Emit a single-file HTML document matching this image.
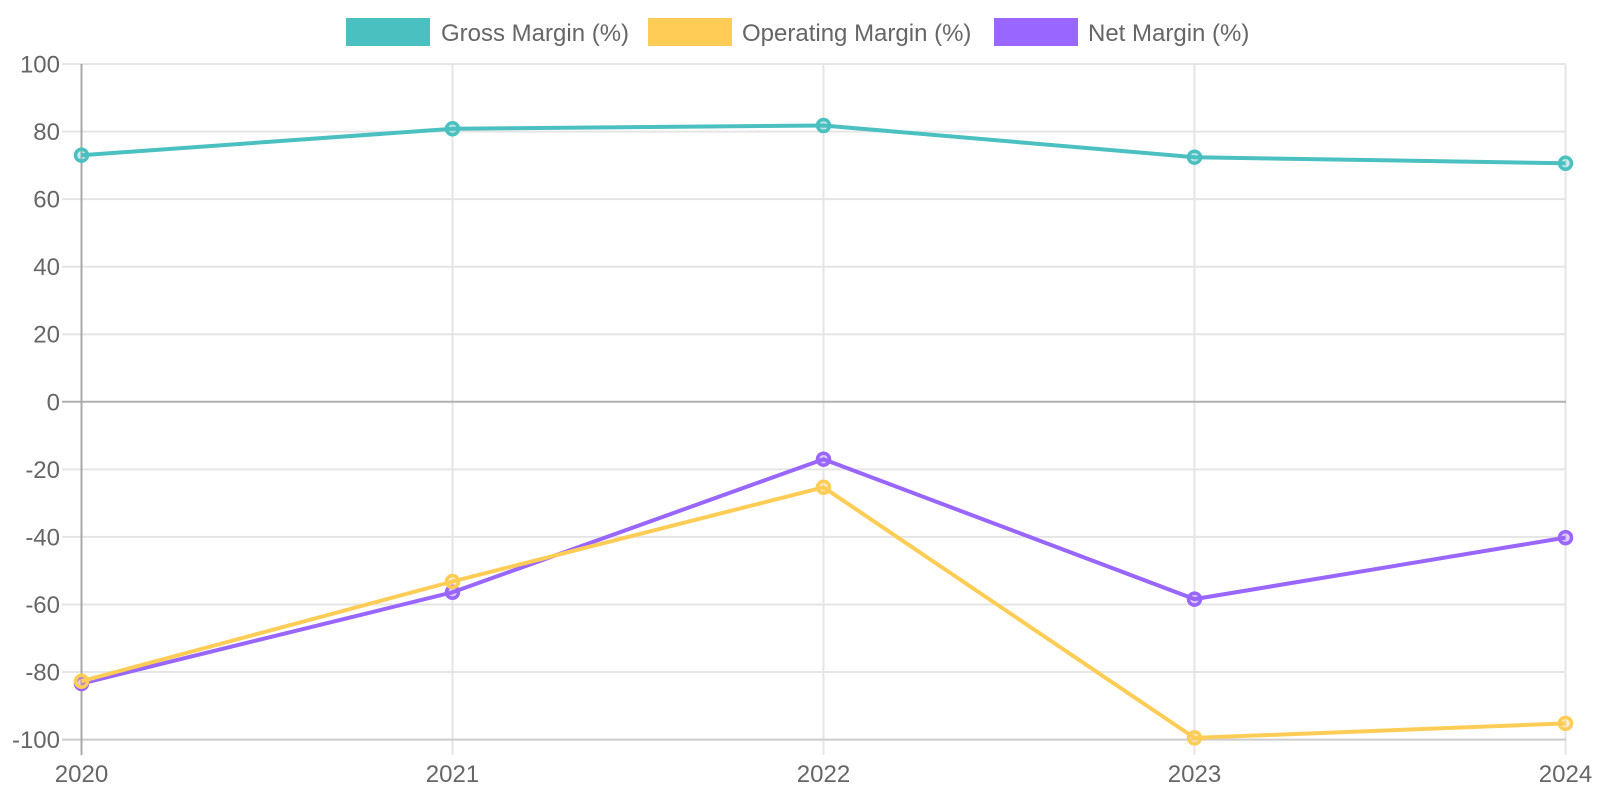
<!DOCTYPE html>
<html>
<head>
<meta charset="utf-8">
<style>
  html,body{margin:0;padding:0;background:#fff;}
  svg{display:block;}
  text{font-family:"Liberation Sans",Arial,sans-serif;fill:#666;font-size:24px;}
</style>
</head>
<body>
<svg width="1600" height="800" viewBox="0 0 1600 800" xmlns="http://www.w3.org/2000/svg">
  <!-- Legend -->
  <rect x="346" y="18" width="84" height="28" fill="#4BC0C0"/>
  <text x="441" y="41">Gross Margin (%)</text>
  <rect x="648" y="18" width="84" height="28" fill="#FFCD56"/>
  <text x="742" y="41">Operating Margin (%)</text>
  <rect x="994" y="18" width="84" height="28" fill="#9966FF"/>
  <text x="1088" y="41">Net Margin (%)</text>

  <!-- Horizontal grid -->
  <g stroke="#e5e5e5" stroke-width="2">
    <line x1="62" y1="64" x2="1566" y2="64"/>
    <line x1="62" y1="131.6" x2="1566" y2="131.6"/>
    <line x1="62" y1="199.1" x2="1566" y2="199.1"/>
    <line x1="62" y1="266.7" x2="1566" y2="266.7"/>
    <line x1="62" y1="334.2" x2="1566" y2="334.2"/>
    <line x1="62" y1="469.4" x2="1566" y2="469.4"/>
    <line x1="62" y1="536.9" x2="1566" y2="536.9"/>
    <line x1="62" y1="604.5" x2="1566" y2="604.5"/>
    <line x1="62" y1="672.0" x2="1566" y2="672.0"/>
  </g>
  <!-- Vertical grid -->
  <g stroke="#e5e5e5" stroke-width="2">
    <line x1="452.5" y1="64" x2="452.5" y2="755"/>
    <line x1="823.5" y1="64" x2="823.5" y2="755"/>
    <line x1="1194.5" y1="64" x2="1194.5" y2="755"/>
    <line x1="1565.5" y1="64" x2="1565.5" y2="755"/>
  </g>
  <!-- bottom axis line and zero line -->
  <line x1="62" y1="739.6" x2="1566" y2="739.6" stroke="#cccccc" stroke-width="2"/>
  <line x1="62" y1="401.8" x2="1566" y2="401.8" stroke="#b0b0b0" stroke-width="2"/>
  <!-- left axis -->
  <line x1="81.5" y1="64" x2="81.5" y2="755" stroke="#a8a8a8" stroke-width="2"/>

  <!-- Y labels -->
  <g text-anchor="end">
    <text x="60" y="72.5">100</text>
    <text x="60" y="140.1">80</text>
    <text x="60" y="207.6">60</text>
    <text x="60" y="275.2">40</text>
    <text x="60" y="342.7">20</text>
    <text x="60" y="410.3">0</text>
    <text x="60" y="477.9">-20</text>
    <text x="60" y="545.4">-40</text>
    <text x="60" y="613">-60</text>
    <text x="60" y="680.5">-80</text>
    <text x="60" y="748.1">-100</text>
  </g>
  <!-- X labels -->
  <g text-anchor="middle">
    <text x="81.5" y="782">2020</text>
    <text x="452.5" y="782">2021</text>
    <text x="823.5" y="782">2022</text>
    <text x="1194.5" y="782">2023</text>
    <text x="1565.5" y="782">2024</text>
  </g>

  <!-- Net Margin (drawn first, bottom) -->
  <polyline fill="none" stroke="#9966FF" stroke-width="4" stroke-linejoin="round"
    points="81.5,683.5 452.5,592.3 823.5,459.2 1194.5,599.1 1565.5,537.6"/>
  <g fill="rgba(153,102,255,0.3)" stroke="#9966FF" stroke-width="3.5">
    <circle cx="81.5" cy="683.5" r="6"/>
    <circle cx="452.5" cy="592.3" r="6"/>
    <circle cx="823.5" cy="459.2" r="6"/>
    <circle cx="1194.5" cy="599.1" r="6"/>
    <circle cx="1565.5" cy="537.6" r="6"/>
  </g>

  <!-- Operating Margin -->
  <polyline fill="none" stroke="#FFCD56" stroke-width="4" stroke-linejoin="round"
    points="81.5,681.2 452.5,581.5 823.5,487.3 1194.5,737.9 1565.5,723.4"/>
  <g fill="rgba(255,205,86,0.3)" stroke="#FFCD56" stroke-width="3.5">
    <circle cx="81.5" cy="681.2" r="6"/>
    <circle cx="452.5" cy="581.5" r="6"/>
    <circle cx="823.5" cy="487.3" r="6"/>
    <circle cx="1194.5" cy="737.9" r="6"/>
    <circle cx="1565.5" cy="723.4" r="6"/>
  </g>

  <!-- Gross Margin -->
  <polyline fill="none" stroke="#4BC0C0" stroke-width="4" stroke-linejoin="round"
    points="81.5,155.2 452.5,128.8 823.5,125.5 1194.5,157.2 1565.5,163.3"/>
  <g fill="rgba(75,192,192,0.3)" stroke="#4BC0C0" stroke-width="3.5">
    <circle cx="81.5" cy="155.2" r="6"/>
    <circle cx="452.5" cy="128.8" r="6"/>
    <circle cx="823.5" cy="125.5" r="6"/>
    <circle cx="1194.5" cy="157.2" r="6"/>
    <circle cx="1565.5" cy="163.3" r="6"/>
  </g>
</svg>
</body>
</html>
